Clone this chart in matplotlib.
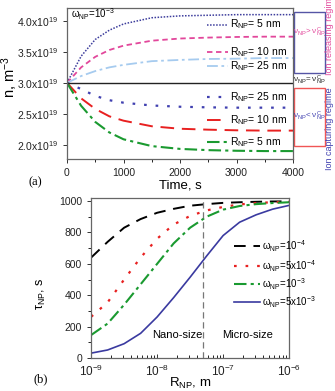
import matplotlib
matplotlib.use("Agg")
import matplotlib.pyplot as plt
from matplotlib.patches import Rectangle
import numpy as np

plt.rcParams['font.family'] = ['Liberation Sans', 'DejaVu Sans']
plt.rcParams['mathtext.fontset'] = 'custom'
plt.rcParams['mathtext.rm'] = 'Liberation Sans'
plt.rcParams['mathtext.it'] = 'Liberation Sans:italic'
plt.rcParams['mathtext.bf'] = 'Liberation Sans:bold'

# ---------------- data: panel (a) ----------------
time_s = [0, 250, 500, 750, 1000, 1500, 2000, 2500, 3000, 3500, 4000]
n_5nm_up = [3.00, 3.43, 3.70, 3.85, 3.95, 4.05, 4.08, 4.09, 4.10, 4.10, 4.10]
n_10nm_up = [3.00, 3.25, 3.42, 3.53, 3.60, 3.68, 3.715, 3.73, 3.74, 3.745, 3.745]
n_25nm_up = [3.00, 3.11, 3.19, 3.25, 3.29, 3.35, 3.37, 3.385, 3.39, 3.40, 3.40]
n_25nm_down = [3.00, 2.90, 2.79, 2.72, 2.68, 2.635, 2.615, 2.605, 2.60, 2.60, 2.60]
n_10nm_down = [3.00, 2.75, 2.58, 2.46, 2.39, 2.30, 2.26, 2.245, 2.235, 2.23, 2.23]
n_5nm_down = [3.00, 2.63, 2.37, 2.20, 2.09, 1.98, 1.935, 1.915, 1.905, 1.90, 1.90]
n_equilibrium = 3.0
scale = 1e19
n_ticks = [2.0, 2.5, 3.0, 3.5, 4.0]
n_ticklabels = ["2.0x10$^{19}$", "2.5x10$^{19}$", "3.0x10$^{19}$", "3.5x10$^{19}$", "4.0x10$^{19}$"]

# ---------------- data: panel (b) ----------------
logR = [-9, -8.75, -8.5, -8.25, -8, -7.75, -7.5, -7.25, -7, -6.75, -6.5, -6.25, -6]
tau_w1e4 = [640, 740, 830, 885, 925, 950, 970, 980, 988, 992, 995, 997, 998]
tau_w5e4 = [263, 355, 500, 640, 760, 850, 905, 940, 962, 978, 987, 992, 995]
tau_w1e3 = [147, 220, 340, 470, 600, 730, 830, 900, 945, 968, 980, 987, 992]
tau_w5e3 = [32, 52, 92, 158, 262, 385, 515, 650, 780, 865, 912, 948, 972]
R_boundary = 5e-8

fig = plt.figure(figsize=(3.35, 3.91), dpi=100)

# ================= panel (a) =================
ax1 = fig.add_axes([0.200, 0.593, 0.675, 0.387])
t = np.array(time_s)
c_purple = '#3c3c9c'
c_pink = '#e2479b'
c_lblue = '#a6cbef'
c_blue = '#4040b0'
c_red = '#e82020'
c_green = '#1a9a30'

styles = [
    (n_5nm_up, c_purple, (0, (1, 1)), 1.1),
    (n_10nm_up, c_pink, (0, (3, 2)), 1.3),
    (n_25nm_up, c_lblue, (0, (6, 2, 1.5, 2)), 1.3),
    (n_25nm_down, c_blue, (0, (1.2, 4)), 1.6),
    (n_10nm_down, c_red, (0, (7, 4)), 1.4),
    (n_5nm_down, c_green, (0, (6, 2, 1.5, 2)), 1.5),
]
for vals, col, ls, lw in styles:
    ax1.plot(t, np.array(vals) * scale, color=col, ls=ls, lw=lw)
ax1.axhline(n_equilibrium * scale, color='#222222', lw=1.0)

ax1.set_xlim(0, 4000)
ax1.set_ylim(1.77e19, 4.21e19)
ax1.set_xticks([0, 1000, 2000, 3000, 4000])
ax1.set_xticks([500, 1500, 2500, 3500], minor=True)
ax1.set_yticks([v * scale for v in n_ticks])
ax1.set_yticklabels(n_ticklabels)
ax1.tick_params(labelsize=7.5, length=3, width=0.7, colors='#333333', labelcolor='#222222')
ax1.tick_params(which='minor', length=2, width=0.6)
for s in ax1.spines.values():
    s.set_color('#666666')
    s.set_linewidth(0.9)
ax1.set_xlabel("Time, s", fontsize=9.5, labelpad=1)
ax1.set_ylabel("n, m$^{-3}$", fontsize=10.5)
ax1.yaxis.set_label_coords(-0.21, 0.54)

ax1.text(70, 4.11e19, "ω$_{\\rm NP}$=10$^{-3}$", fontsize=7, ha='left', va='center')

labels_a = [
    (3.94, c_purple, (0, (1, 1)), 1.1, "R$_{\\rm NP}$= 5 nm"),
    (3.50, c_pink, (0, (3, 2)), 1.3, "R$_{\\rm NP}$= 10 nm"),
    (3.27, c_lblue, (0, (6, 2, 1.5, 2)), 1.3, "R$_{\\rm NP}$= 25 nm"),
    (2.77, c_blue, (0, (1.2, 4)), 1.6, "R$_{\\rm NP}$= 25 nm"),
    (2.40, c_red, (0, (7, 4)), 1.4, "R$_{\\rm NP}$= 10 nm"),
    (2.05, c_green, (0, (6, 2, 1.5, 2)), 1.5, "R$_{\\rm NP}$= 5 nm"),
]
for y, col, ls, lw, lab in labels_a:
    ax1.plot([2480, 2850], [y * scale, y * scale], color=col, ls=ls, lw=lw)
    ax1.text(2890, y * scale, lab, fontsize=7.5, ha='left', va='center')

# boxes on the right
box1 = Rectangle((1.004, 0.570), 0.138, 0.404, transform=ax1.transAxes,
                 fill=False, ec='#5555a5', lw=1.0, clip_on=False)
box2 = Rectangle((1.004, 0.086), 0.138, 0.384, transform=ax1.transAxes,
                 fill=False, ec='#f05555', lw=1.0, clip_on=False)
ax1.add_patch(box1)
ax1.add_patch(box2)
ax1.text(1.073, 0.84, "ν$_{\\rm NP}$> ν$_{\\rm NP}^{\\rm C}$", transform=ax1.transAxes,
         fontsize=5.8, color=c_pink, ha='center', va='center')
ax1.text(1.073, 0.52, "ν$_{\\rm NP}$= ν$_{\\rm NP}^{\\rm C}$", transform=ax1.transAxes,
         fontsize=5.8, color='#222222', ha='center', va='center')
ax1.text(1.073, 0.28, "ν$_{\\rm NP}$< ν$_{\\rm NP}^{\\rm C}$", transform=ax1.transAxes,
         fontsize=5.8, color=c_blue, ha='center', va='center')
fig.text(0.984, 0.807, "Ion releasing regime", rotation=90, fontsize=6.5,
         color=c_pink, ha='center', va='bottom')
fig.text(0.984, 0.565, "Ion capturing regime", rotation=90, fontsize=6.5,
         color=c_blue, ha='center', va='bottom')
fig.text(0.085, 0.535, "(a)", fontsize=9, family='Liberation Serif', ha='left', va='center')

# ================= panel (b) =================
ax2 = fig.add_axes([0.272, 0.084, 0.591, 0.410])
R = 10.0 ** np.array(logR)
ax2.plot(R, tau_w1e4, color='black', ls=(0, (6, 4)), lw=1.4)
ax2.plot(R, tau_w5e4, color=c_red, ls=(0, (1.2, 4)), lw=1.6)
ax2.plot(R, tau_w1e3, color=c_green, ls=(0, (6, 2, 1.5, 2)), lw=1.5)
ax2.plot(R, tau_w5e3, color='#3a3aa0', ls='-', lw=1.2)
ax2.axvline(R_boundary, color='#777777', ls=(0, (5, 3)), lw=0.9)
ax2.set_xscale('log')
ax2.set_xlim(1e-9, 1e-6)
ax2.set_ylim(0, 1020)
ax2.set_yticks([0, 200, 400, 600, 800, 1000])
ax2.set_yticks([100, 300, 500, 700, 900], minor=True)
ax2.tick_params(labelsize=7.5, length=3, width=0.7, colors='#333333', labelcolor='#222222')
ax2.tick_params(axis='x', which='both', direction='in', labelsize=8.5, pad=4)
ax2.tick_params(which='minor', length=2, width=0.6)
for s in ax2.spines.values():
    s.set_color('#666666')
    s.set_linewidth(0.9)
ax2.set_xlabel("R$_{\\rm NP}$, m", fontsize=9.5, labelpad=-2)
ax2.set_ylabel("τ$_{\\rm NP}$, s", fontsize=9)
ax2.yaxis.set_label_coords(-0.22, 0.40)

leg = [
    (0.70, 'black', (0, (6, 4)), 1.4, "ω$_{\\rm NP}$=10$^{-4}$"),
    (0.575, c_red, (0, (1.2, 4)), 1.6, "ω$_{\\rm NP}$=5x10$^{-4}$"),
    (0.4625, c_green, (0, (6, 2, 1.5, 2)), 1.5, "ω$_{\\rm NP}$=10$^{-3}$"),
    (0.35, '#3a3aa0', '-', 1.2, "ω$_{\\rm NP}$=5x10$^{-3}$"),
]
for y, col, ls, lw, lab in leg:
    ax2.plot([0.722, 0.854], [y, y], transform=ax2.transAxes, color=col, ls=ls,
             lw=lw, clip_on=False)
    ax2.text(0.862, y, lab, transform=ax2.transAxes, fontsize=7, ha='left',
             va='center', clip_on=False)
ax2.text(0.435, 0.144, "Nano-size", transform=ax2.transAxes, fontsize=8,
         ha='center', va='center')
ax2.text(0.788, 0.144, "Micro-size", transform=ax2.transAxes, fontsize=8,
         ha='center', va='center')
fig.text(0.10, 0.03, "(b)", fontsize=9, family='Liberation Serif', ha='left', va='center')

fig.savefig("out.png", dpi=100)
